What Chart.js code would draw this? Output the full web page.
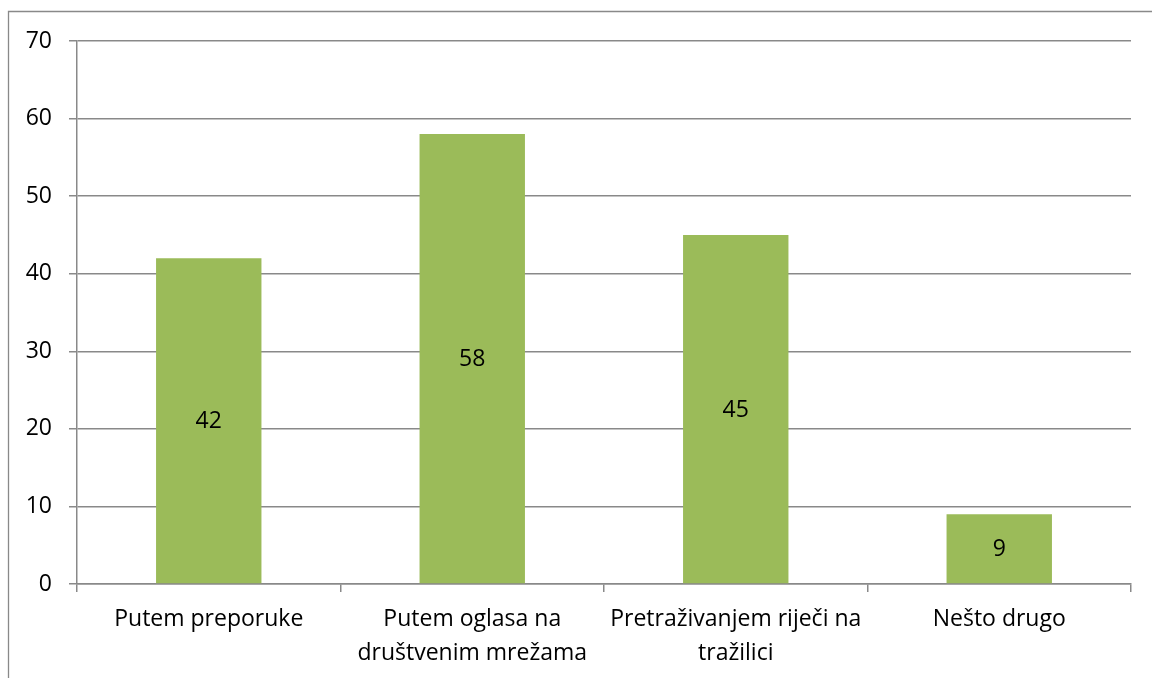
<!DOCTYPE html>
<html>
<head>
<meta charset="utf-8">
<script src="https://cdn.jsdelivr.net/npm/chart.js@4/dist/chart.umd.min.js"></script>
<style>
  html, body { margin: 0; padding: 0; background: #fff; }
  #wrap { position: absolute; left: 0; top: 0; width: 1152px; height: 678px; }
</style>
</head>
<body>
<div id="wrap"><canvas id="c" width="1152" height="678"></canvas></div>
<script>
const categories = [
  "Putem preporuke",
  ["Putem oglasa na", "društvenim mrežama"],
  ["Pretraživanjem riječi na", "tražilici"],
  "Nešto drugo"
];
const values = [42, 58, 45, 9];
const yTicks = [0, 10, 20, 30, 40, 50, 60, 70];

const FONT = "'Open Sans', 'Noto Sans', sans-serif";
const FSIZE = 23;
const GRID = '#898989';

const frame = {
  id: 'frame',
  beforeDraw(chart) {
    const ctx = chart.ctx;
    ctx.save();
    ctx.fillStyle = '#fff';
    ctx.fillRect(0, 0, chart.width, chart.height);
    ctx.strokeStyle = GRID;
    ctx.lineWidth = 1.3;
    ctx.beginPath();
    ctx.moveTo(8.5, chart.height);
    ctx.lineTo(8.5, 11.5);
    ctx.lineTo(chart.width, 11.5);
    ctx.stroke();
    ctx.restore();
  }
};

const barLabels = {
  id: 'barLabels',
  afterDatasetsDraw(chart) {
    const ctx = chart.ctx;
    ctx.save();
    ctx.font = FSIZE + "px " + FONT;
    ctx.fillStyle = '#000';
    ctx.textAlign = 'center';
    ctx.textBaseline = 'middle';
    chart.getDatasetMeta(0).data.forEach((el, i) => {
      const p = el.getProps(['x', 'y', 'base'], true);
      ctx.fillText(String(values[i]), p.x, (p.y + p.base) / 2 + 1);
    });
    ctx.restore();
  }
};

new Chart(document.getElementById('c'), {
  type: 'bar',
  data: {
    labels: categories,
    datasets: [{
      data: values,
      backgroundColor: '#9BBB59',
      borderWidth: 0,
      barPercentage: 0.4,
      categoryPercentage: 1.0
    }]
  },
  options: {
    responsive: false,
    animation: false,
    devicePixelRatio: 1,
    layout: { padding: { left: 0, right: 21, top: 41, bottom: 0 } },
    plugins: { legend: { display: false }, tooltip: { enabled: false } },
    scales: {
      x: {
        afterFit(s) { s.height = 94; },
        grid: {
          display: true,
          drawOnChartArea: false,
          drawTicks: true,
          tickLength: 8,
          color: GRID,
          lineWidth: 1.5,
          offset: true
        },
        border: { display: true, color: GRID, width: 1.5 },
        ticks: {
          color: '#000',
          padding: 10,
          maxRotation: 0,
          autoSkip: false,
          font: { family: FONT, size: FSIZE, lineHeight: '34px' }
        }
      },
      y: {
        min: 0,
        max: 70,
        afterFit(s) { s.width = 77; },
        afterBuildTicks(s) { s.ticks = yTicks.map(v => ({ value: v })); },
        grid: {
          color: GRID,
          lineWidth: 1.5,
          tickLength: 8,
          drawTicks: true
        },
        border: { display: true, color: GRID, width: 1.5 },
        ticks: {
          color: '#000',
          padding: 17,
          font: { family: FONT, size: FSIZE }
        }
      }
    }
  },
  plugins: [frame, barLabels]
});
</script>
</body>
</html>
